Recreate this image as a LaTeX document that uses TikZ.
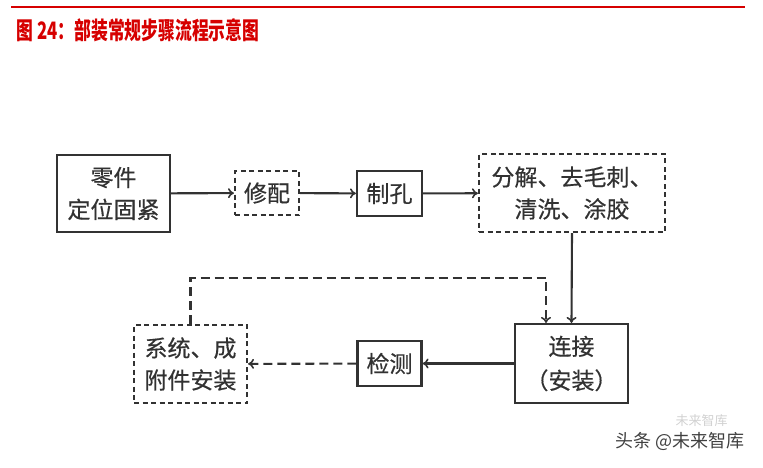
\documentclass[tikz,border=0pt]{standalone}
\usepackage{fontspec}
\usepackage{xcolor}
\usepackage{tikz}
\usetikzlibrary{calc,positioning,arrows.meta}
\newfontfamily\cjk{Noto Sans CJK SC}
\newfontfamily\cjkbox{Noto Sans CJK SC}[FakeBold=0.5]
\definecolor{titlered}{RGB}{214,0,0}
\definecolor{boxgray}{RGB}{50,50,50}

\begin{document}
\begin{tikzpicture}[x=1pt,y=-1pt,
		stepbox/.style={draw=boxgray,line width=2.1pt,align=center,inner sep=0pt,
			font=\cjkbox\fontsize{23}{32}\selectfont,text=boxgray},
		dashbox/.style={stepbox,dash pattern=on 5pt off 3.5pt},
		flow/.style={draw=boxgray,line width=2.1pt,-{To[length=6pt,width=10pt,line width=1.6pt]}},
		dashflow/.style={flow,dash pattern=on 9pt off 5pt}]
	\useasboundingbox (0,0) rectangle (763,467);
	% title bar
	\draw[titlered,line width=2.4pt] (11,7) -- (745,7);
	\node[anchor=west,text=titlered,font=\cjk\bfseries\fontsize{24}{24}\selectfont] (title) at (13,30) {\scalebox{0.7}[1]{图 24：部装常规步骤流程示意图}};
	% first row
	\node[stepbox,minimum width=113pt,minimum height=77pt] (part) at (113.5,193.5) {零件\\定位固紧};
	\node[dashbox,minimum width=64pt,minimum height=44pt] (fit) at (267,193) {修配};
	\node[stepbox,minimum width=65pt,minimum height=45pt] (hole) at (389.5,193.5) {制孔};
	\node[dashbox,minimum width=186pt,minimum height=78pt] (clean) at (572,193) {分解、去毛刺、\\清洗、涂胶};
	% second row
	\node[stepbox,minimum width=113pt,minimum height=79pt,font=\cjkbox\fontsize{23}{34}\selectfont] (join) at (571.5,363.5) {连接\\（安装）};
	\node[stepbox,minimum width=64pt,minimum height=45pt] (check) at (389.5,363.5) {检测};
	\node[dashbox,minimum width=113pt,minimum height=78pt] (sys) at (190.5,364) {系统、成\\附件安装};
	% connectors
	\draw[flow] (part) -- (fit);
	\draw[flow] (fit) -- (hole);
	\draw[flow] (hole) -- (clean);
	\draw[flow] (clean.south) -- (join.north);
	\draw[flow] (join) -- (check);
	\draw[dashflow] (check) -- (sys);
	\coordinate (loopl) at ($(sys.north)+(0,-46)$);
	\coordinate (loopr) at ($(join.north)+(-25.5,-45)$);
	\draw[dashflow] (sys.north) -- (loopl) -- (loopl -| loopr) -- (loopr |- join.north);
	% watermark
	\node[anchor=west,text=black!18,font=\cjk\fontsize{13}{13}\selectfont] (wmark) at (672,421) {未来智库};
	\node[anchor=west,text=black!75,font=\cjk\fontsize{18}{18}\selectfont] (source) at (612,441) {头条 @未来智库};
\end{tikzpicture}
\end{document}
